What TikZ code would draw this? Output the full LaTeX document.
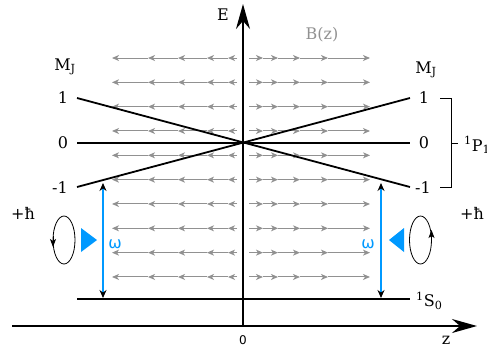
\documentclass[tikz,border=0pt]{standalone}
\usepackage{fontspec}
\setmainfont{DejaVu Serif}
\newfontfamily\dvsans{DejaVu Sans}
\usetikzlibrary{arrows.meta}
\definecolor{skyb}{RGB}{0,153,255}
\definecolor{fieldgray}{RGB}{145,145,145}
\begin{document}
\begin{tikzpicture}[x=1pt,y=-1pt,
  level/.style={line width=1.8pt},
  axisline/.style={line width=1.4pt,-{Stealth[length=25pt,width=14pt,inset=8pt]}},
  fieldarr/.style={fieldgray,line width=1pt,-{Stealth[length=7pt,width=6pt,inset=2pt]}},
  trans/.style={skyb,line width=1.2pt,{Stealth[black,length=8pt,width=7pt]}-{Stealth[black,length=8pt,width=7pt]}},
  lbl/.style={font=\fontsize{16}{18}\selectfont,inner sep=0pt},
  omeg/.style={skyb,font=\dvsans\fontsize{16}{18}\selectfont,inner sep=0pt},
  polring/.style={line width=0.8pt},
  ringtip/.style={line width=0.8pt,-{Stealth[length=8pt,width=6pt,inset=2pt]}},
  beam/.style={fill=skyb,draw=none}]
\useasboundingbox (0,0) rectangle (487,349);
% magnetic field arrows
\foreach \k in {0,...,9}{
  \pgfmathsetmacro{\yy}{58+24.33*\k}
  \foreach \a/\b in {237/228,228/207,207/178,178/148,148/112}
    \draw[fieldarr] (\a,\yy) -- (\b,\yy);
  \foreach \a/\b in {249/263,263/278,278/300,300/328,328/370}
    \draw[fieldarr] (\a,\yy) -- (\b,\yy);
}
\node[lbl,text=fieldgray] (bz) at (322,35) {B(z)};
% axes
\coordinate (Eb) at (243,326);
\coordinate (Et) at (243,4);
\coordinate (zl) at (12,326);
\coordinate (zr) at (477,326);
\draw[axisline] (Eb) -- (Et);
\draw[axisline] (zl) -- (zr);
\node[lbl] (elab) at (223,15) {E};
\node[lbl] (zlab) at (446,340) {z};
\node[inner sep=0pt,font=\dvsans\fontsize{12}{14}\selectfont] (zero) at (243,340) {0};
% levels
\coordinate (L1) at (77,98);
\coordinate (L0) at (77,143);
\coordinate (Lm) at (77,187);
\coordinate (R1) at (410,98);
\coordinate (R0) at (410,143);
\coordinate (Rm) at (410,187);
\coordinate (SL) at (77,299);
\coordinate (SR) at (410,299);
\draw[level] (L1) -- (Rm);
\draw[level] (Lm) -- (R1);
\draw[level] (L0) -- (R0);
\draw[level] (SL) -- (SR);
% level labels
\node[lbl] (mjl) at (65,67) {M\textsubscript{J}};
\node[lbl] (mjr) at (426,70) {M\textsubscript{J}};
\node[lbl] (l1) at (63,98) {1};
\node[lbl] (l0) at (63,143) {0};
\node[lbl] (lm) at (60,188) {-1};
\node[lbl] (r1) at (424,98) {1};
\node[lbl] (r0) at (424,143) {0};
\node[lbl] (rm) at (423,188) {-1};
% bracket
\coordinate (b1) at (440,98);
\coordinate (b2) at (451,98);
\coordinate (b3) at (451,187);
\coordinate (b4) at (440,187);
\coordinate (bm) at (451,143);
\coordinate (bt) at (458,143);
\draw[line width=0.7pt] (b1) -- (b2) -- (b3) -- (b4);
\draw[line width=0.7pt] (bm) -- (bt);
\node[lbl,anchor=west] (p1) at (464,145) {\textsuperscript{1}P\textsubscript{1}};
\node[lbl,anchor=west] (s0) at (416,301) {\textsuperscript{1}S\textsubscript{0}};
% transitions
\coordinate (tlt) at (103,183);
\coordinate (tlb) at (103,298);
\coordinate (trt) at (381,183);
\coordinate (trb) at (381,298);
\draw[trans] (tlt) -- (tlb);
\draw[trans] (trt) -- (trb);
\node[omeg] (wl) at (115,244) {ω};
\node[omeg] (wr) at (368,244) {ω};
% beams
\fill[beam] (81,228) -- (97,240) -- (81,252) -- cycle;
\fill[beam] (404,228) -- (389,240) -- (404,252) -- cycle;
% polarisation
\draw[polring] (64,240) ellipse [x radius=11, y radius=24];
\draw[ringtip] (53,236) -- (53,247);
\draw[polring] (420.5,240) ellipse [x radius=11, y radius=24];
\draw[ringtip] (431.5,242) -- (431.5,230);
\node[lbl] (hl) at (23,213) {+ħ};
\node[lbl] (hr) at (472,213) {+ħ};
\end{tikzpicture}
\end{document}
